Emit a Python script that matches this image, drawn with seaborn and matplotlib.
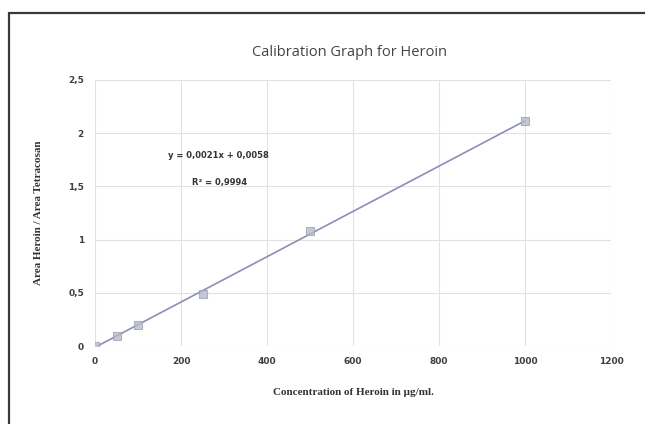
import matplotlib
matplotlib.use("Agg")
import matplotlib.pyplot as plt
from matplotlib.lines import Line2D
import seaborn as sns
import pandas as pd

concentration = [0, 50, 100, 250, 500, 1000]
area_ratio = [0.0, 0.09, 0.2, 0.49, 1.08, 2.11]
x_ticks = [0, 200, 400, 600, 800, 1000, 1200]
y_ticks = [0, 0.5, 1, 1.5, 2, 2.5]
y_tick_labels = ["0", "0,5", "1", "1,5", "2", "2,5"]
equation_text = "y = 0,0021x + 0,0058"
r2_text = "R\u00b2 = 0,9994"

df = pd.DataFrame({"conc": concentration, "ratio": area_ratio})

sns.set_style("white")
fig = plt.figure(figsize=(6.45, 4.24), dpi=100)
ax = fig.add_axes([95 / 645, 1 - 346 / 424, (611 - 95) / 645, (346 - 80) / 424])

sns.regplot(data=df, x="conc", y="ratio", ci=None, ax=ax, marker="s",
            scatter_kws=dict(s=26, color="#b8bbcc", edgecolor="#a0a3b4", linewidths=0.8, zorder=3),
            line_kws=dict(color="#8a8fb8", linewidth=1.2, zorder=2))

ax.set_xlim(0, 1200)
ax.set_ylim(0, 2.5)
ax.set_xticks(x_ticks)
ax.set_xticklabels([str(t) for t in x_ticks])
ax.set_yticks(y_ticks)
ax.set_yticklabels(y_tick_labels)
ax.grid(True, color="#e2e2e2", linewidth=0.8)
ax.set_axisbelow(True)
for s in ax.spines.values():
    s.set_visible(False)
ax.tick_params(axis="both", length=0, labelsize=6.5, colors="#404040", pad=8)
for lbl in ax.get_xticklabels() + ax.get_yticklabels():
    lbl.set_fontweight("bold")

ax.set_xlabel("Concentration of Heroin in \u00b5g/ml.", family="Liberation Serif",
              fontweight="bold", fontsize=8, color="#333333", labelpad=16)
ax.set_ylabel("Area Heroin / Area Tetracosan", family="Liberation Serif",
              fontweight="bold", fontsize=8, color="#333333", labelpad=18)

fig.text(349 / 645, 1 - 52 / 424, "Calibration Graph for Heroin", ha="center", va="center",
         fontsize=10.5, color="#444444", family="Open Sans")

ax.text(288, 1.79, equation_text, fontsize=6, fontweight="bold", color="#333333", ha="center", va="center")
ax.text(290, 1.54, r2_text, fontsize=6, fontweight="bold", color="#333333", ha="center", va="center")

fig.add_artist(Line2D([9 / 645, 1.0], [1 - 13 / 424, 1 - 13 / 424], transform=fig.transFigure,
                      color="#3a3a3a", linewidth=1.6))
fig.add_artist(Line2D([9 / 645, 9 / 645], [0, 1 - 13 / 424], transform=fig.transFigure,
                      color="#3a3a3a", linewidth=1.6))

fig.savefig("out.png", dpi=100)
